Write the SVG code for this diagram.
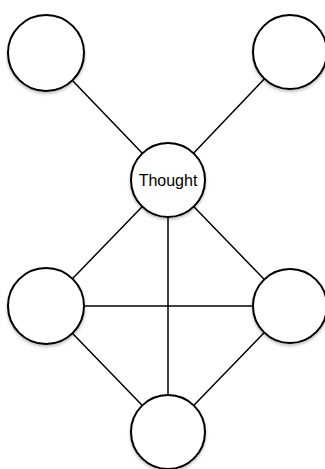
<svg xmlns="http://www.w3.org/2000/svg" width="325" height="469" viewBox="0 0 325 469">
<defs>
<style>
.edge{stroke:#000;stroke-width:1.5;fill:none}
.node{fill:#fff;stroke:#000;stroke-width:2}
.label{font-family:"Liberation Sans",Arial,sans-serif;font-size:16px;fill:#000;text-anchor:middle}
</style>
<filter id="sh" x="-20%" y="-20%" width="140%" height="140%">
<feDropShadow dx="0" dy="2" stdDeviation="1.5" flood-color="#000" flood-opacity="0.25"/>
</filter>
</defs>
<rect width="325" height="469" fill="#fff"/>
<g id="connectors">
<line class="edge" x1="46" y1="53" x2="168" y2="180"/>
<line class="edge" x1="290" y1="52" x2="168" y2="180"/>
<line class="edge" x1="168" y1="180" x2="46" y2="306"/>
<line class="edge" x1="168" y1="180" x2="290" y2="306"/>
<line class="edge" x1="168" y1="180" x2="168" y2="432"/>
<line class="edge" x1="46" y1="306" x2="290" y2="306"/>
<line class="edge" x1="46" y1="306" x2="168" y2="432"/>
<line class="edge" x1="290" y1="306" x2="168" y2="432"/>
</g>
<g id="node-top-left"><circle class="node" filter="url(#sh)" cx="46" cy="53" r="38"/></g>
<g id="node-top-right"><circle class="node" filter="url(#sh)" cx="290" cy="52" r="37"/></g>
<g id="node-thought"><circle class="node" filter="url(#sh)" cx="168" cy="180" r="37"/><text class="label" x="168" y="186">Thought</text></g>
<g id="node-mid-left"><circle class="node" filter="url(#sh)" cx="46" cy="306" r="38"/></g>
<g id="node-mid-right"><circle class="node" filter="url(#sh)" cx="290" cy="306" r="37"/></g>
<g id="node-bottom"><circle class="node" filter="url(#sh)" cx="168" cy="432" r="37"/></g>
</svg>
